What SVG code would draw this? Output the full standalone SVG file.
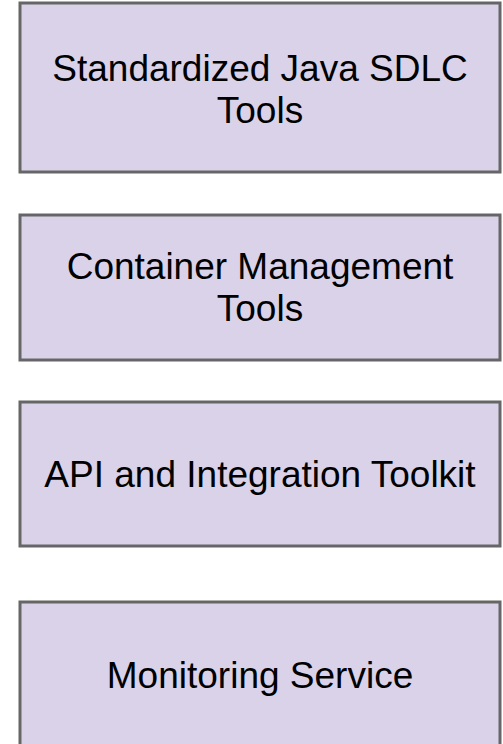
<svg xmlns="http://www.w3.org/2000/svg" width="503" height="744" viewBox="0 0 503 744">
  <style>
    .box { fill: #d9d2e9; stroke: #666666; stroke-width: 3; }
    .label { font-family: "Liberation Sans", Arial, sans-serif; font-size: 37px; fill: #000000; text-anchor: middle; }
  </style>
  <rect width="503" height="744" fill="#ffffff"/>
  <g id="connectors"></g>
  <g id="node-sdlc">
    <rect class="box" x="20" y="3" width="480" height="169"/>
    <text class="label" x="260" y="81">Standardized Java SDLC</text>
    <text class="label" x="260" y="123">Tools</text>
  </g>
  <g id="node-container">
    <rect class="box" x="20" y="215" width="480" height="145"/>
    <text class="label" x="260" y="279">Container Management</text>
    <text class="label" x="260" y="321">Tools</text>
  </g>
  <g id="node-api">
    <rect class="box" x="20" y="402" width="480" height="144"/>
    <text class="label" x="260" y="487">API and Integration Toolkit</text>
  </g>
  <g id="node-monitoring">
    <rect class="box" x="20" y="602" width="480" height="146"/>
    <text class="label" x="260" y="688">Monitoring Service</text>
  </g>
</svg>
